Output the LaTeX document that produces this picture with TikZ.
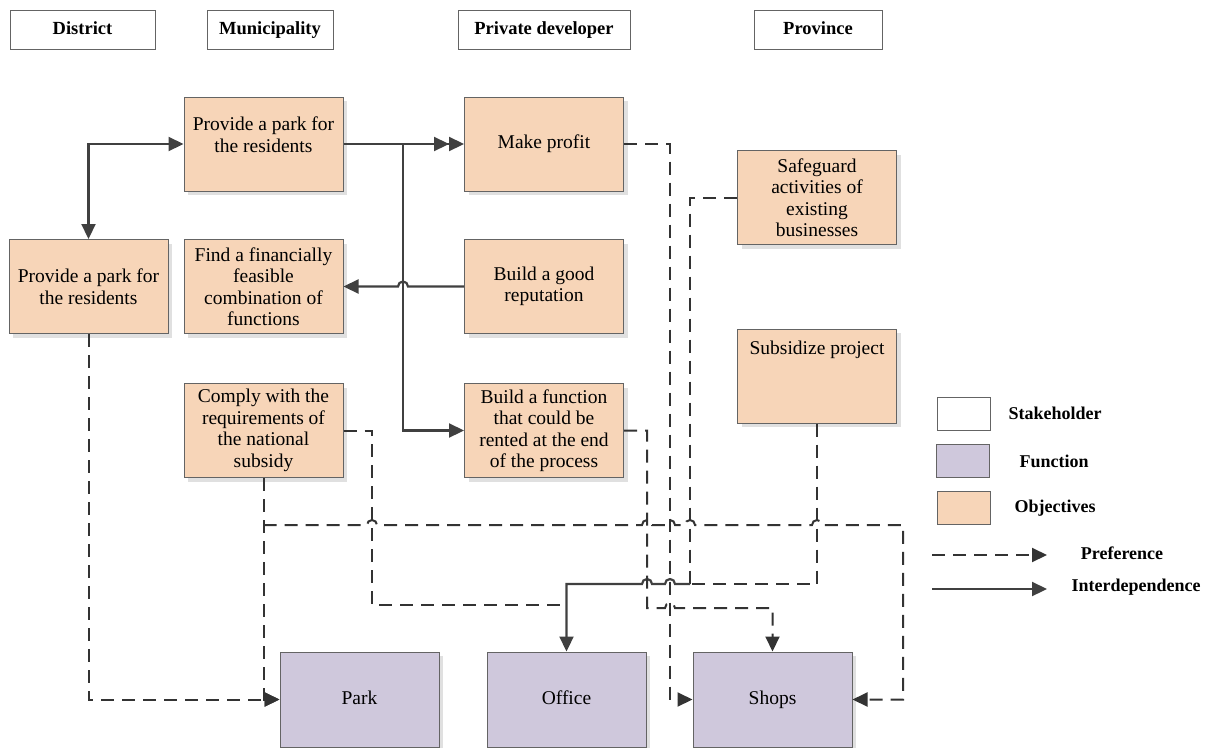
\documentclass[tikz,border=0pt]{standalone}
\usepackage{fontspec}
\setmainfont{Liberation Serif}
\usetikzlibrary{arrows.meta,shadows,calc}
\definecolor{objfill}{RGB}{247,213,184}
\definecolor{funcfill}{RGB}{207,200,220}
\definecolor{edgegray}{RGB}{100,100,100}
\definecolor{linkgray}{RGB}{64,64,64}
\begin{document}
\begin{tikzpicture}[x=1pt,y=1pt,
  >={Triangle[length=15pt,width=14pt]},
  box/.style={draw=edgegray, line width=1pt, inner sep=2pt, align=center, font=\fontsize{19.5}{21.5}\selectfont},
  stake/.style={box, fill=white, minimum height=39pt, text height=13pt, text depth=4pt, font=\bfseries\fontsize{18.5}{20}\selectfont},
  objbox/.style={box, fill=objfill, minimum width=159pt, minimum height=94pt,
    drop shadow={shadow xshift=4pt, shadow yshift=-4pt, fill=black!12, opacity=1}},
  funcbox/.style={objbox, fill=funcfill, minimum height=95pt, text height=13pt, text depth=4pt},
  keybox/.style={draw=edgegray, line width=1pt, minimum width=53pt, minimum height=33pt},
  keytext/.style={font=\bfseries\fontsize{18}{20}\selectfont},
  link/.style={draw=linkgray, line width=2.2pt},
  pref/.style={draw=black!80, line width=2pt, dash pattern=on 13pt off 8pt}]
  \useasboundingbox (0,0) rectangle (1212,-747);

  % stakeholders
  \node[stake, minimum width=145pt] (district) at (82.5,-29.5) {District};
  \node[stake, minimum width=126pt] (municipality) at (270,-29.5) {Municipality};
  \node[stake, minimum width=172pt] (developer) at (544,-29.5) {Private developer};
  \node[stake, minimum width=128pt] (province) at (818,-29.5) {Province};

  % objectives
  \node[objbox, text depth=19pt] (munipark) at (263.5,-144) {Provide a park for\\the residents};
  \node[objbox] (profit) at (544,-144) {Make profit};
  \node[objbox] (safeguard) at (817,-197.5) {Safeguard\\activities of\\existing\\businesses};
  \node[objbox] (distpark) at (88.5,-286.5) {Provide a park for\\the residents};
  \node[objbox] (findfin) at (263.5,-286.5) {Find a financially\\feasible\\combination of\\functions};
  \node[objbox] (reput) at (544,-286.5) {Build a good\\reputation};
  \node[objbox, text depth=57pt] (subsidy) at (817,-376) {Subsidize project};
  \node[objbox] (comply) at (263.5,-430.5) {Comply with the\\requirements of\\the national\\subsidy};
  \node[objbox] (rentfn) at (544,-430.5) {Build a function\\that could be\\rented at the end\\of the process};

  % functions
  \node[funcbox] (park) at (359.5,-699.5) {Park};
  \node[funcbox] (office) at (566.5,-699.5) {Office};
  \node[funcbox] (shops) at (772.5,-699.5) {Shops};

  % interdependence
  \coordinate (fork) at (403,-144);
  \draw[link,<->] (distpark.north) |- (munipark.west);
  \draw[link,->>] (munipark.east) -- (profit.west);
  \draw[link,->] (fork) |- (rentfn.west);
  \draw[link,->] (reput.west) -- (408,-286.5) arc[start angle=0,end angle=180,radius=5pt] -- (findfin.east);

  % preferences
  \coordinate (meet) at (690,-584);
  \draw[pref,->] (distpark.south) |- (park.west);
  \draw[pref,->] (comply.south) |- (park.west);
  \draw[pref] (comply.east) -| (372,-605) -- (office.north |- 0,-605);
  \draw[pref] (safeguard.west) -| (meet);
  \draw[pref] (subsidy.south) |- (meet);
  \draw[link,->] (meet) -- (675,-584) arc[start angle=0,end angle=180,radius=5pt]
    -- (652,-584) arc[start angle=0,end angle=180,radius=5pt] -| (office.north);
  \draw[pref,->] (profit.east) -| ($(shops.west)+(-23,0)$) -- (shops.west);
  \draw[pref,->] (rentfn.east) -| (647,-608) -- (665,-608)
    arc[start angle=180,end angle=0,radius=5pt] -| (shops.north);
  \draw[pref,->] (comply.south |- 0,-525) -- (367,-525) arc[start angle=180,end angle=0,radius=5pt]
    -- (642,-525) arc[start angle=180,end angle=0,radius=5pt]
    -- (665,-525) arc[start angle=180,end angle=0,radius=5pt]
    -- (685,-525) arc[start angle=180,end angle=0,radius=5pt]
    -- (812,-525) arc[start angle=180,end angle=0,radius=5pt]
    -- (903,-525) |- (shops.east);

  % legend
  \node[keybox, fill=white] (keystake) at (964,-414) {};
  \node[keybox, fill=funcfill] (keyfunc) at (963,-461) {};
  \node[keybox, fill=objfill] (keyobj) at (964,-508) {};
  \node[keytext] (keystaketext) at (1055,-413) {Stakeholder};
  \node[keytext] (keyfunctext) at (1054,-461) {Function};
  \node[keytext] (keyobjtext) at (1055,-508) {Objectives};
  \coordinate (prefA) at (932,-555);
  \coordinate (prefB) at (1047,-555);
  \coordinate (linkA) at (932,-589);
  \coordinate (linkB) at (1047,-589);
  \draw[pref,->] (prefA) -- (prefB);
  \draw[link,->] (linkA) -- (linkB);
  \node[keytext] (preftext) at (1122,-553) {Preference};
  \node[keytext] (linktext) at (1136,-587) {Interdependence};
\end{tikzpicture}
\end{document}
